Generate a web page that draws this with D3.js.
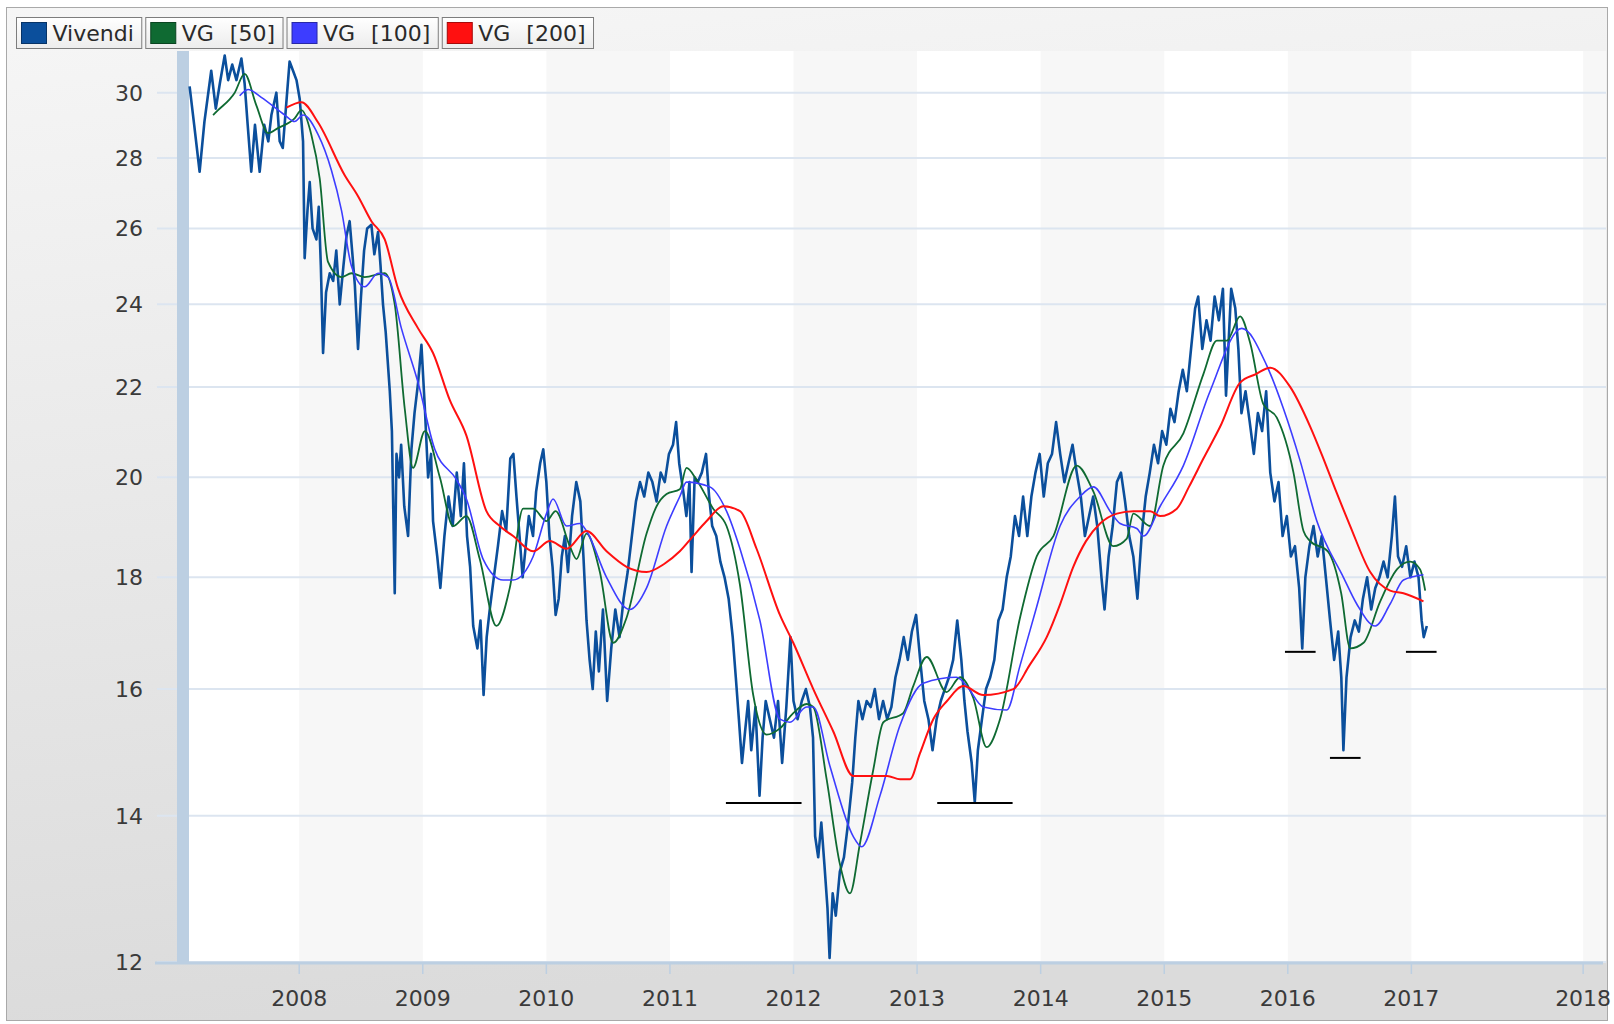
<!DOCTYPE html>
<html><head><meta charset="utf-8">
<script src="https://cdn.jsdelivr.net/npm/d3@7"></script>
<style>body{margin:0;background:#fff;} svg{display:block;font-family:"DejaVu Sans",Verdana,sans-serif;}</style>
</head><body><svg id="c" width="1614" height="1024"></svg>
<script>
// ---------------- DATA ----------------
const seriesNames = ["Vivendi", "VG  [50]", "VG  [100]", "VG  [200]"];
const seriesColors = ["#0b4f9c", "#0f6a32", "#3d3dff", "#ff1010"];

const yTicks = [12, 14, 16, 18, 20, 22, 24, 26, 28, 30];
const xTickYears = [2008, 2009, 2010, 2011, 2012, 2013, 2014, 2015, 2016, 2017, 2018.39];
const xTickLabels = ["2008", "2009", "2010", "2011", "2012", "2013", "2014", "2015", "2016", "2017", "2018"];

const vivendi = [
[2007.113,30.2],[2007.150,29.0],[2007.194,27.6],[2007.233,29.1],[2007.288,30.7],[2007.325,29.5],[2007.358,30.3],[2007.397,31.2],[2007.425,30.4],[2007.458,30.9],[2007.492,30.4],[2007.532,31.1],[2007.558,30.3],[2007.583,29.0],[2007.612,27.6],[2007.642,29.0],[2007.680,27.6],[2007.717,29.0],[2007.750,28.5],[2007.775,29.3],[2007.815,30.0],[2007.842,28.5],[2007.867,28.3],[2007.892,29.5],[2007.922,31.0],[2007.950,30.7],[2007.978,30.4],
[2008.004,29.8],[2008.031,28.5],[2008.044,25.2],[2008.067,26.5],[2008.085,27.3],[2008.108,26.0],[2008.139,25.7],[2008.158,26.6],[2008.175,25.0],[2008.193,22.8],[2008.217,24.3],[2008.247,24.8],[2008.275,24.6],[2008.300,25.4],[2008.328,24.0],[2008.358,25.0],[2008.383,25.8],[2008.408,26.2],[2008.433,25.2],[2008.450,24.5],[2008.476,22.9],[2008.500,24.2],[2008.525,25.4],[2008.550,26.0],[2008.584,26.1],[2008.608,25.3],[2008.638,25.9],[2008.658,25.0],[2008.678,24.0],[2008.700,23.3],[2008.733,21.9],[2008.750,21.0],[2008.773,17.7],[2008.787,20.5],[2008.808,20.0],[2008.825,20.7],[2008.850,19.4],[2008.881,18.8],[2008.908,20.6],[2008.933,21.4],[2008.962,22.1],[2008.989,23.0],
[2009.017,21.5],[2009.043,20.0],[2009.067,20.5],[2009.083,19.1],[2009.117,18.4],[2009.142,17.8],[2009.175,18.8],[2009.208,19.6],[2009.242,19.0],[2009.275,20.1],[2009.308,19.2],[2009.333,20.3],[2009.358,18.8],[2009.383,18.2],[2009.408,17.1],[2009.442,16.7],[2009.467,17.2],[2009.492,15.9],[2009.517,16.9],[2009.542,17.4],[2009.575,18.0],[2009.608,18.6],[2009.642,19.3],[2009.675,18.9],[2009.708,20.4],[2009.733,20.5],[2009.758,19.6],[2009.783,18.8],[2009.808,18.0],[2009.833,18.6],[2009.858,19.2],[2009.892,18.8],[2009.917,19.7],[2009.950,20.3],[2009.975,20.6],
[2010.000,19.9],[2010.025,18.8],[2010.050,18.2],[2010.075,17.3],[2010.100,17.6],[2010.125,18.4],[2010.150,18.8],[2010.175,18.1],[2010.208,19.2],[2010.242,19.9],[2010.275,19.5],[2010.300,18.4],[2010.325,17.2],[2010.350,16.5],[2010.375,16.0],[2010.400,17.0],[2010.425,16.3],[2010.458,17.4],[2010.492,15.8],[2010.525,16.7],[2010.558,17.4],[2010.592,16.9],[2010.625,17.6],[2010.658,18.1],[2010.692,18.8],[2010.725,19.5],[2010.758,19.9],[2010.792,19.6],[2010.825,20.1],[2010.858,19.9],[2010.892,19.5],[2010.925,20.1],[2010.958,19.9],[2010.992,20.5],
[2011.025,20.7],[2011.050,21.2],[2011.075,20.3],[2011.108,19.7],[2011.133,19.2],[2011.158,19.9],[2011.175,18.1],[2011.200,20.0],[2011.225,19.9],[2011.258,20.1],[2011.292,20.5],[2011.317,19.6],[2011.342,19.0],[2011.375,18.8],[2011.408,18.3],[2011.442,18.0],[2011.475,17.6],[2011.508,16.9],[2011.533,16.2],[2011.558,15.5],[2011.583,14.8],[2011.608,15.3],[2011.633,15.8],[2011.658,15.0],[2011.692,15.7],[2011.725,14.3],[2011.750,15.2],[2011.775,15.8],[2011.808,15.5],[2011.842,15.2],[2011.875,15.8],[2011.908,14.8],[2011.942,15.7],[2011.975,16.9],
[2012.000,15.8],[2012.033,15.5],[2012.067,15.8],[2012.100,16.0],[2012.133,15.7],[2012.158,15.2],[2012.175,13.7],[2012.200,13.4],[2012.225,13.9],[2012.250,13.3],[2012.275,12.7],[2012.292,12.05],[2012.317,12.9],[2012.342,12.6],[2012.375,13.2],[2012.408,13.4],[2012.442,13.9],[2012.475,14.5],[2012.500,15.2],[2012.525,15.8],[2012.558,15.5],[2012.592,15.8],[2012.625,15.7],[2012.658,16.0],[2012.692,15.5],[2012.725,15.8],[2012.758,15.5],[2012.792,15.7],[2012.825,16.2],[2012.858,16.5],[2012.892,16.9],[2012.925,16.5],[2012.958,17.0],[2012.992,17.3],
[2013.025,16.5],[2013.058,15.8],[2013.092,15.5],[2013.125,15.0],[2013.158,15.5],[2013.192,15.8],[2013.225,16.0],[2013.258,16.2],[2013.292,16.5],[2013.325,17.2],[2013.358,16.5],[2013.383,15.8],[2013.408,15.3],[2013.442,14.8],[2013.467,14.2],[2013.492,15.0],[2013.525,15.5],[2013.558,16.0],[2013.592,16.2],[2013.625,16.5],[2013.658,17.2],[2013.692,17.4],[2013.725,18.0],[2013.758,18.4],[2013.792,19.2],[2013.825,18.8],[2013.858,19.6],[2013.892,18.8],[2013.925,19.6],[2013.958,20.1],[2013.992,20.5],
[2014.025,19.6],[2014.058,20.3],[2014.092,20.5],[2014.125,21.2],[2014.158,20.5],[2014.192,19.9],[2014.225,20.3],[2014.258,20.7],[2014.292,20.1],[2014.325,19.6],[2014.358,18.8],[2014.392,19.2],[2014.425,19.6],[2014.458,19.0],[2014.492,18.0],[2014.517,17.4],[2014.550,18.4],[2014.583,19.0],[2014.617,19.9],[2014.650,20.1],[2014.683,19.5],[2014.717,18.8],[2014.750,18.4],[2014.783,17.6],[2014.817,18.8],[2014.850,19.6],[2014.883,20.1],[2014.917,20.7],[2014.950,20.3],[2014.983,21.0],
[2015.017,20.7],[2015.050,21.5],[2015.083,21.2],[2015.117,21.9],[2015.150,22.4],[2015.183,21.9],[2015.217,22.9],[2015.250,23.9],[2015.275,24.2],[2015.308,22.9],[2015.342,23.6],[2015.375,23.1],[2015.408,24.2],[2015.442,23.6],[2015.475,24.4],[2015.500,21.8],[2015.542,24.4],[2015.575,23.9],[2015.600,22.9],[2015.625,21.4],[2015.658,21.9],[2015.692,21.2],[2015.725,20.5],[2015.758,21.4],[2015.792,21.0],[2015.825,21.9],[2015.858,20.1],[2015.892,19.5],[2015.925,19.9],[2015.958,18.8],[2015.992,19.2],
[2016.025,18.4],[2016.058,18.6],[2016.092,17.8],[2016.117,16.7],[2016.142,18.0],[2016.175,18.6],[2016.208,19.0],[2016.242,18.4],[2016.275,18.8],[2016.308,18.0],[2016.342,17.2],[2016.375,16.5],[2016.408,17.0],[2016.433,16.2],[2016.450,15.0],[2016.475,16.2],[2016.508,16.9],[2016.542,17.2],[2016.575,17.0],[2016.608,17.6],[2016.642,18.0],[2016.675,17.4],[2016.708,17.8],[2016.742,18.0],[2016.775,18.3],[2016.808,18.0],[2016.842,18.8],[2016.867,19.6],[2016.892,18.4],[2016.925,18.2],[2016.958,18.6],[2016.992,18.0],
[2017.025,18.3],[2017.058,18.0],[2017.083,17.2],[2017.100,16.9],[2017.125,17.1]
];

const vg50 = [
[2007.303,29.3],[2007.343,29.45],[2007.478,30.0],[2007.558,30.6],[2007.653,29.6],[2007.748,28.75],[2007.828,28.9],[2007.963,29.2],[2008.018,29.45],[2008.098,28.7],[2008.166,27.4],[2008.233,25.1],[2008.342,24.7],[2008.422,24.8],[2008.530,24.7],[2008.692,24.8],[2008.773,24.0],[2008.854,21.5],[2008.921,20.2],[2009.017,21.0],[2009.138,20.0],[2009.245,19.0],[2009.353,19.2],[2009.461,18.35],[2009.596,17.1],[2009.704,17.8],[2009.812,19.35],[2009.893,19.35],[2010.001,19.1],[2010.075,19.3],[2010.190,18.6],[2010.244,18.35],[2010.325,18.85],[2010.433,18.1],[2010.541,16.8],[2010.649,17.25],[2010.811,18.85],[2010.892,19.4],[2010.973,19.65],[2011.080,19.75],[2011.134,20.2],[2011.215,19.95],[2011.350,19.35],[2011.458,19.0],[2011.567,17.85],[2011.674,15.9],[2011.782,15.25],[2011.890,15.35],[2011.998,15.6],[2012.106,15.75],[2012.160,15.7],[2012.268,14.55],[2012.376,13.3],[2012.457,12.9],[2012.538,13.6],[2012.646,14.7],[2012.727,15.45],[2012.888,15.6],[2012.969,16.05],[2013.078,16.55],[2013.239,15.95],[2013.348,16.2],[2013.455,15.85],[2013.563,15.05],[2013.671,15.5],[2013.833,17.25],[2013.968,18.4],[2014.103,18.8],[2014.292,20.25],[2014.427,19.7],[2014.588,18.6],[2014.697,18.75],[2014.750,19.25],[2014.885,19.0],[2014.993,20.25],[2015.155,20.95],[2015.317,22.3],[2015.426,23.1],[2015.507,23.1],[2015.614,23.7],[2015.695,23.05],[2015.803,21.6],[2015.911,21.3],[2016.046,20.1],[2016.127,18.9],[2016.181,18.7],[2016.324,18.5],[2016.432,17.7],[2016.505,16.7],[2016.613,16.8],[2016.748,17.55],[2016.883,18.15],[2016.990,18.3],[2017.071,18.15],[2017.112,17.75]
];

const vg100 = [
[2007.518,29.9],[2007.586,30.1],[2007.693,29.85],[2007.883,29.3],[2007.963,29.1],[2008.031,29.3],[2008.153,28.7],[2008.260,27.65],[2008.342,26.5],[2008.422,25.0],[2008.530,24.45],[2008.638,24.8],[2008.719,24.7],[2008.827,23.4],[2008.962,22.1],[2009.097,20.6],[2009.273,19.95],[2009.353,19.55],[2009.488,18.35],[2009.650,17.95],[2009.731,17.95],[2009.893,18.4],[2010.001,19.25],[2010.054,19.55],[2010.163,19.0],[2010.271,19.05],[2010.325,18.9],[2010.487,18.0],[2010.675,17.4],[2010.811,17.8],[2010.973,19.0],[2011.080,19.6],[2011.134,19.9],[2011.323,19.8],[2011.458,19.3],[2011.567,18.55],[2011.728,17.2],[2011.890,15.5],[2011.971,15.45],[2012.106,15.7],[2012.160,15.7],[2012.295,14.75],[2012.483,13.7],[2012.552,13.55],[2012.700,14.3],[2012.862,15.4],[2013.050,16.1],[2013.321,16.2],[2013.402,16.05],[2013.536,15.7],[2013.725,15.65],[2013.833,16.4],[2013.968,17.45],[2014.157,19.0],[2014.319,19.6],[2014.427,19.8],[2014.562,19.3],[2014.643,19.05],[2014.778,18.95],[2014.832,18.8],[2014.967,19.4],[2015.155,20.25],[2015.371,21.9],[2015.628,23.4],[2015.830,22.5],[2015.965,21.5],[2016.100,20.35],[2016.235,19.1],[2016.450,18.0],[2016.558,17.5],[2016.708,17.1],[2016.828,17.5],[2016.936,17.95],[2017.098,18.05]
];

const vg200 = [
[2007.896,29.53],[2008.018,29.7],[2008.153,29.07],[2008.368,27.5],[2008.476,26.9],[2008.584,26.2],[2008.692,25.7],[2008.800,24.4],[2008.962,23.4],[2009.083,22.8],[2009.218,21.7],[2009.353,20.9],[2009.515,19.3],[2009.623,19.0],[2009.731,18.8],[2009.893,18.5],[2010.028,18.7],[2010.163,18.55],[2010.325,18.9],[2010.487,18.5],[2010.649,18.2],[2010.811,18.1],[2010.950,18.25],[2011.080,18.5],[2011.188,18.8],[2011.297,19.1],[2011.431,19.4],[2011.567,19.3],[2011.701,18.55],[2011.890,17.3],[2011.998,16.8],[2012.160,16.0],[2012.322,15.3],[2012.483,14.6],[2012.646,14.6],[2012.758,14.6],[2012.862,14.55],[2012.943,14.55],[2013.023,14.95],[2013.131,15.5],[2013.242,15.8],[2013.374,16.05],[2013.536,15.9],[2013.779,16.0],[2013.908,16.4],[2014.049,16.9],[2014.158,17.5],[2014.264,18.2],[2014.367,18.7],[2014.481,19.05],[2014.617,19.25],[2014.750,19.3],[2014.887,19.3],[2014.967,19.2],[2015.102,19.35],[2015.200,19.8],[2015.317,20.4],[2015.453,21.1],[2015.614,22.1],[2015.742,22.3],[2015.857,22.45],[2016.019,22.0],[2016.181,21.1],[2016.288,20.4],[2016.392,19.7],[2016.505,19.0],[2016.667,18.1],[2016.828,17.75],[2016.936,17.7],[2017.098,17.55]
];

// support levels: [start year, end year, value]
const supportLines = [
[2011.453, 2012.065, 14.19],
[2013.163, 2013.773, 14.19],
[2015.977, 2016.225, 16.64],
[2016.341, 2016.589, 14.88],
[2016.956, 2017.204, 16.64]
];

// ---------------- CHART ----------------
const svg = d3.select("#c");
const defs = svg.append("defs");
const bg = defs.append("linearGradient").attr("id","bg").attr("x1",0).attr("y1",0).attr("x2",0.15).attr("y2",1);
bg.append("stop").attr("offset","0%").attr("stop-color","#f6f6f6");
bg.append("stop").attr("offset","100%").attr("stop-color","#dbdbdb");
const lg = defs.append("linearGradient").attr("id","lg").attr("x1",0).attr("y1",0).attr("x2",0).attr("y2",1);
lg.append("stop").attr("offset","0%").attr("stop-color","#ffffff");
lg.append("stop").attr("offset","100%").attr("stop-color","#ececec");

const P = {left:188, right:1606, top:51, bottom:962};
defs.append("clipPath").attr("id","clip").append("rect")
  .attr("x",P.left).attr("y",P.top).attr("width",P.right-P.left).attr("height",P.bottom-P.top);

svg.append("rect").attr("x",6.5).attr("y",7.5).attr("width",1601).attr("height",1013)
  .attr("fill","url(#bg)").attr("stroke","#a9a9a9");

const x = d3.scaleLinear().domain([2007.1, 2018.575]).range([P.left, P.right]);
const y = d3.scaleLog().domain([12, 31.33]).range([P.bottom, P.top + 0.5]);

// plot background + alternating bands
svg.append("rect").attr("x",P.left).attr("y",P.top).attr("width",P.right-P.left).attr("height",P.bottom-P.top).attr("fill","#ffffff");
const bounds = [x.domain()[0], ...xTickYears, x.domain()[1]];
const bands = d3.range(bounds.length-1).filter(i => i % 2 === 1).map(i => [bounds[i], bounds[i+1]]);
svg.append("g").selectAll("rect").data(bands).join("rect")
  .attr("x", d => x(d[0])).attr("width", d => x(d[1]) - x(d[0]))
  .attr("y", P.top).attr("height", P.bottom - P.top).attr("fill", "#f7f7f7");

// gridlines + y ticks
const gridColor = "#dce5f0";
svg.append("g").selectAll("line").data(yTicks).join("line")
  .attr("x1", 157).attr("x2", P.right).attr("y1", d => y(d)).attr("y2", d => y(d))
  .attr("stroke", gridColor).attr("stroke-width", 2);
svg.append("g").selectAll("text").data(yTicks).join("text")
  .attr("x", 143).attr("y", d => y(d)).attr("dy", "0.36em").attr("text-anchor","end")
  .attr("font-size", 22).attr("fill", "#3a3a3a").text(d => d);

// left axis band
svg.append("rect").attr("x",177).attr("y",P.top).attr("width",12).attr("height",P.bottom-P.top+1).attr("fill","#bccfe2");

// bottom axis
svg.append("line").attr("x1",155).attr("x2",1603).attr("y1",P.bottom+1).attr("y2",P.bottom+1)
  .attr("stroke","#bccfe2").attr("stroke-width",3);
const xt = svg.append("g").selectAll("g").data(xTickYears).join("g");
xt.append("line").attr("x1", d => x(d)).attr("x2", d => x(d)).attr("y1", P.bottom+2).attr("y2", P.bottom+12)
  .attr("stroke","#bccfe2").attr("stroke-width",1.5);
xt.append("text").attr("x", d => x(d)).attr("y", 1006).attr("text-anchor","middle")
  .attr("font-size", 22).attr("fill","#3a3a3a").text((d,i) => xTickLabels[i]);

// series
const plotG = svg.append("g").attr("clip-path","url(#clip)");
const lineRaw = d3.line().x(d => x(d[0])).y(d => y(d[1]));
const lineSmooth = d3.line().x(d => x(d[0])).y(d => y(d[1])).curve(d3.curveMonotoneX);
plotG.append("path").datum(vivendi).attr("d", lineRaw).attr("fill","none")
  .attr("stroke", seriesColors[0]).attr("stroke-width", 2.6).attr("stroke-linejoin","round");
plotG.append("path").datum(vg50).attr("d", lineSmooth).attr("fill","none")
  .attr("stroke", seriesColors[1]).attr("stroke-width", 1.8);
plotG.append("path").datum(vg100).attr("d", lineSmooth).attr("fill","none")
  .attr("stroke", seriesColors[2]).attr("stroke-width", 1.6);
plotG.append("path").datum(vg200).attr("d", lineSmooth).attr("fill","none")
  .attr("stroke", seriesColors[3]).attr("stroke-width", 2);

// support lines
svg.append("g").selectAll("line").data(supportLines).join("line")
  .attr("x1", d => x(d[0])).attr("x2", d => x(d[1])).attr("y1", d => y(d[2])).attr("y2", d => y(d[2]))
  .attr("stroke","#000").attr("stroke-width",2);

// legend
const leg = svg.append("g");
let lx = 16.5;
seriesNames.forEach((name, i) => {
  const g = leg.append("g");
  const box = g.append("rect").attr("x", lx).attr("y", 17.5).attr("height", 31).attr("fill","url(#lg)").attr("stroke","#7d7d7d");
  g.append("rect").attr("x", lx+5).attr("y", 22.5).attr("width", 25).attr("height", 21)
    .attr("fill", seriesColors[i]).attr("stroke", d3.color(seriesColors[i]).darker(1.2));
  const t = g.append("text").attr("x", lx+36).attr("y", 41).attr("font-size", 22).attr("fill","#2a2a2a")
    .attr("word-spacing", 1).style("white-space","pre").text(name);
  const w = t.node().getComputedTextLength();
  box.attr("width", 36 + w + 8);
  lx += 36 + w + 8 + 4;
});
</script></body></html>
